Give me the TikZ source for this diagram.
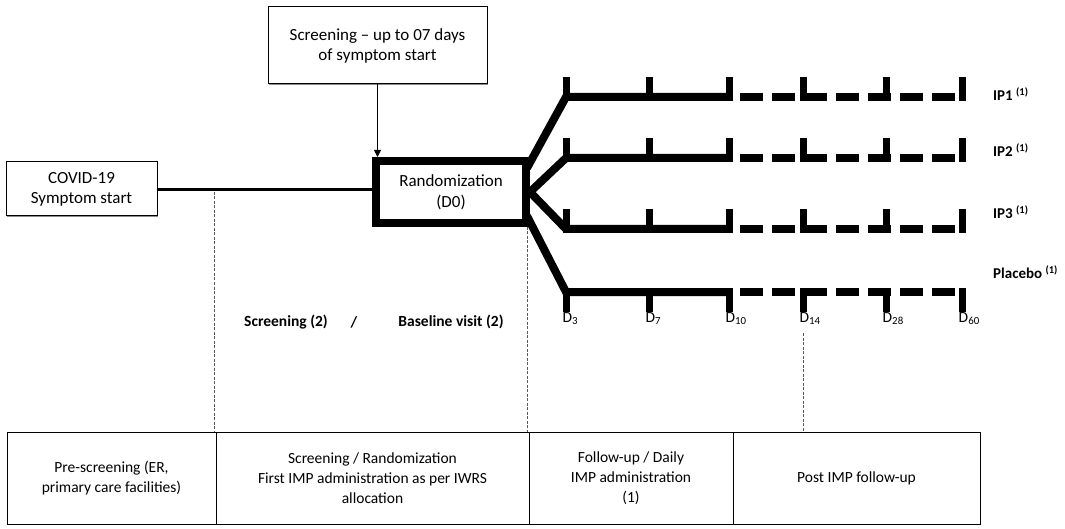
\documentclass[tikz,border=0pt]{standalone}
\usepackage{fontspec}
\setmainfont{Carlito}
\usetikzlibrary{arrows.meta,calc,shadows}
\begin{document}
\begin{tikzpicture}[x=1pt,y=-1pt,
  thinbox/.style={draw, fill=white, line width=1, align=center, inner sep=0, outer sep=0,
    font=\fontsize{17}{20}\selectfont,
    drop shadow={shadow xshift=1.2pt, shadow yshift=-1.2pt, fill=black!45, opacity=1}},
  randbox/.style={draw, line width=8, align=center, inner sep=0,
    font=\fontsize{17}{21}\selectfont, minimum width=150, minimum height=62},
  arm/.style={line width=8},
  tickln/.style={line width=7},
  dashseg/.style={line width=8, dash pattern=on 23 off 9},
  vdash/.style={draw=black!65, line width=1, dash pattern=on 3 off 1.5},
  iplabel/.style={font=\fontsize{15}{17}\selectfont\bfseries, anchor=west, inner sep=0},
  dlabel/.style={font=\fontsize{15.5}{17}\selectfont, anchor=north west, inner sep=0},
  cell/.style={draw, line width=1, align=center, inner sep=0, outer sep=0,
    minimum height=92, font=\fontsize{15.5}{20}\selectfont},
  boldtxt/.style={font=\fontsize{15.5}{17}\selectfont\bfseries, inner sep=0}
]
\useasboundingbox (0,0) rectangle (1065,529);

% top boxes
\node[thinbox, minimum width=219, minimum height=77] (top) at (377.5,45.5)
  {Screening -- up to 07 days\\of symptom start};
\node[thinbox, minimum width=151, minimum height=54] (covid) at (81.5,189)
  {COVID-19\\Symptom start};
\node[randbox] (rand) at (451,192) {Randomization\\(D0)};

\draw[line width=1, -{Triangle[length=7,width=7]}] (top.south) -- (top.south |- rand.north);
\draw[line width=2.5] (covid.east |- 0,189.5) -- (rand.west |- 0,189.5);

% branch origins
\coordinate (b1) at (527,168);
\coordinate (b2) at (530,192);
\coordinate (b3) at (530,192);
\coordinate (b4) at (527,216);

\foreach \i/\y/\s in {1/97/-1, 2/158/-1, 3/229/-1, 4/292/1} {
  \foreach \j/\x in {0/566,1/649,2/729,3/803,4/886,5/962} {
    \coordinate (r\i t\j) at (\x,\y);
    \draw[tickln] ($(r\i t\j)+(0,-\s*4)$) -- ++(0,\s*24);
  }
  \coordinate (r\i d) at (740,\y);
  \draw[arm] (b\i) -- (r\i t0) -- (r\i t2);
  \draw[dashseg] (r\i d) -- (r\i t5);
}

% arm labels
\node[iplabel] (ip1) at (993,94) {IP1 \textsuperscript{(1)}};
\node[iplabel] (ip2) at (993,150) {IP2 \textsuperscript{(1)}};
\node[iplabel] (ip3) at (993,212) {IP3 \textsuperscript{(1)}};
\node[iplabel] (plac) at (993,272) {Placebo \textsuperscript{(1)}};

% day labels
\foreach \j/\n in {0/3,1/7,2/10,3/14,4/28,5/60} {
  \node[dlabel] (dl\j) at ($(r4t\j)+(-3.5,20)$) {D\textsubscript{\n}};
}

% screening text
\node[boldtxt] (scr) at (286,322) {Screening (2)};
\node[boldtxt] (slash) at (354,322) {/};
\node[boldtxt] (base) at (451,322) {Baseline visit (2)};

% bottom table
\node[cell, minimum width=209] (c1) at (111.5,478) {Pre-screening (ER,\\primary care facilities)};
\node[cell, minimum width=313] (c2) at (372.5,478) {Screening / Randomization\\First IMP administration as per IWRS\\allocation};
\node[cell, minimum width=204] (c3) at (631,478) {Follow-up / Daily\\IMP administration\\(1)};
\node[cell, minimum width=247] (c4) at (856.5,478) {Post IMP follow-up};

% dashed guides
\coordinate (g1) at (214,192);
\coordinate (g2) at (527,227);
\coordinate (g3) at (803,333);
\draw[vdash] (g1) -- (g1 |- c1.north);
\draw[vdash] (g2) -- (g2 |- c2.north);
\draw[vdash] (g3) -- (g3 |- c4.north);
\end{tikzpicture}
\end{document}
